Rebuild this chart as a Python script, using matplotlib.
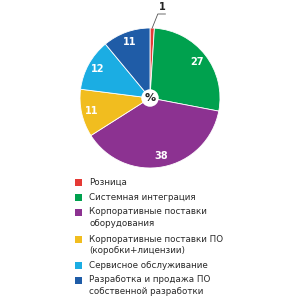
import matplotlib
matplotlib.use("Agg")
import matplotlib.pyplot as plt
from matplotlib.patches import Rectangle, Circle
import numpy as np

# Market share by segment, %
labels = [
    "Розница",
    "Системная интеграция",
    "Корпоративные поставки\nоборудования",
    "Корпоративные поставки ПО\n(коробки+лицензии)",
    "Сервисное обслуживание",
    "Разработка и продажа ПО\nсобственной разработки",
]
values = [1, 27, 38, 11, 12, 11]
colors = ["#e53a35", "#00a14e", "#8c3291", "#f1bd1f", "#1bade3", "#1f5ca7"]

W, H = 300, 300
fig = plt.figure(figsize=(3, 3), dpi=100)
fig.patch.set_facecolor("white")

# pie axes: centre (150, 98) px, radius 70 px
cx, cy, r = 150, 98, 70
ax = fig.add_axes([(cx - r) / W, (H - cy - r) / H, 2 * r / W, 2 * r / H])
wedges, _ = ax.pie(values, colors=colors, startangle=90, counterclock=False,
                   radius=1, wedgeprops=dict(edgecolor="white", linewidth=0.6))
ax.set_xlim(-1, 1)
ax.set_ylim(-1, 1)
ax.set_aspect("equal")
ax.axis("off")

for w, v in zip(wedges, values):
    if v < 5:
        continue
    ang = np.deg2rad((w.theta1 + w.theta2) / 2)
    d = 0.85
    ax.text(d * np.cos(ang), d * np.sin(ang), str(v), color="white",
            fontsize=7, fontweight="bold", ha="center", va="center")

# centre badge
ax.add_patch(Circle((0, 0), 0.125, facecolor="white", edgecolor="none", zorder=5))
ax.text(0, 0, "%", fontsize=8, fontweight="bold", ha="center", va="center",
        zorder=6, color="#222222")

# leader for the tiny slice
w0 = wedges[0]
a0 = np.deg2rad((w0.theta1 + w0.theta2) / 2)
x0, y0 = np.cos(a0), np.sin(a0)
ax.plot([x0, x0 + 0.08, 0.22], [y0, 1.2, 1.2], color="#555555", lw=0.6,
        clip_on=False)
ax.text(0.17, 1.23, str(values[0]), fontsize=7, fontweight="bold",
        ha="center", va="bottom", color="#222222", clip_on=False)

# legend
rows = [182, 197, 212, 239, 265, 280]
for lab, col, y in zip(labels, colors, rows):
    fig.patches.append(Rectangle((75 / W, (H - y - 3.5) / H), 7 / W, 7 / H,
                                 transform=fig.transFigure, facecolor=col,
                                 edgecolor="none"))
    fig.text(89 / W, (H - y + 4.5) / H, lab, fontsize=6.3, va="top", ha="left",
             color="#2a2a2a", linespacing=1.3)

fig.savefig("out.png", dpi=100)
